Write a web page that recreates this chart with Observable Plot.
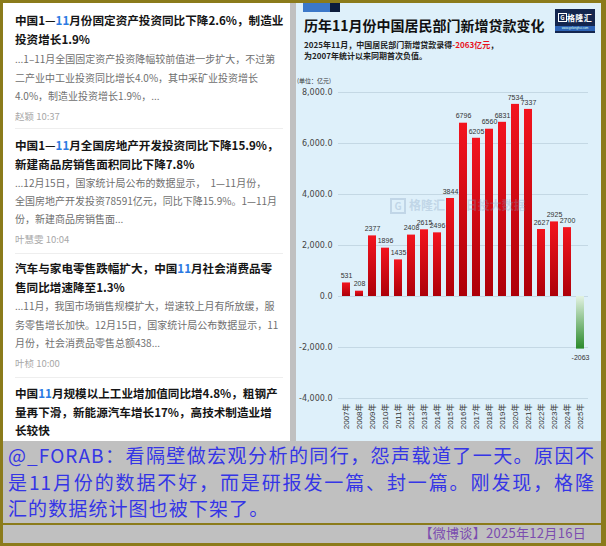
<!DOCTYPE html>
<html><head><meta charset="utf-8">
<script src="https://cdn.jsdelivr.net/npm/d3@7"></script>
<script src="https://cdn.jsdelivr.net/npm/@observablehq/plot@0.6"></script>
<style>
html,body{margin:0;padding:0;background:#8b7b1b;}
#root{position:relative;width:606px;height:546px;background:#8b7b1b;overflow:hidden;font-family:"Noto Sans CJK SC","Noto Sans",sans-serif;}
</style></head><body><div id="root"></div>
<script>
// ---- chart data ----
const years = ["2007年","2008年","2009年","2010年","2011年","2012年","2013年","2014年","2015年","2016年","2017年","2018年","2019年","2020年","2021年","2022年","2023年","2024年","2025年"];
const loans = [531,208,2377,1896,1435,2408,2615,2496,3844,6796,6205,6560,6831,7534,7337,2627,2925,2700,-2063];
const yTicks = [-4000,-2000,0,2000,4000,6000,8000];
const chartTitle = "历年11月份中国居民部门新增贷款变化";
const subtitle1a = "2025年11月，中国居民部门新增贷款录得";
const subtitle1b = "-2063亿元";
const subtitle1c = "，";
const subtitle2 = "为2007年统计以来同期首次负值。";
const unitLabel = "(单位：亿元)";

// ---- page text ----
const newsTitles = [
  ["中国1—[11]月份固定资产投资同比下降2.6%，制造业","投资增长1.9%"],
  ["中国1—[11]月全国房地产开发投资同比下降15.9%，","新建商品房销售面积同比下降7.8%"],
  ["汽车与家电零售跌幅扩大，中国[11]月社会消费品零","售同比增速降至1.3%"],
  ["中国[11]月规模以上工业增加值同比增4.8%，粗钢产","量再下滑，新能源汽车增长17%，高技术制造业增","长较快"]
];
const newsSnips = [
  ["...1–11月全国固定资产投资降幅较前值进一步扩大，不过第","二产业中工业投资同比增长4.0%，其中采矿业投资增长","4.0%，制造业投资增长1.9%，..."],
  ["...12月15日，国家统计局公布的数据显示，　1—11月份，","全国房地产开发投资78591亿元，同比下降15.9%。1—11月","份，新建商品房销售面..."],
  ["...11月，我国市场销售规模扩大，增速较上月有所放缓，服","务零售增长加快。12月15日，国家统计局公布数据显示，11","月份，社会消费品零售总额438..."],
  []
];
const newsMeta = ["赵颖  10:37","叶慧雯  10:04","叶桢  10:00",null];
const comment = ["@_FORAB：看隔壁做宏观分析的同行，怨声载道了一天。原因不","是11月份的数据不好，而是研报发一篇、封一篇。刚发现，格隆","汇的数据统计图也被下架了。"];
const footer = "【微博谈】2025年12月16日";

// ---- layout helpers ----
const root = document.getElementById("root");
function box(x,y,w,h,bg){const d=document.createElement("div");Object.assign(d.style,{position:"absolute",left:x+"px",top:y+"px",width:w+"px",height:h+"px",background:bg});root.appendChild(d);return d;}
function txt(html,x,cy,o={}){
  const lh=o.lh||18;const d=document.createElement("div");d.innerHTML=html;
  Object.assign(d.style,{position:"absolute",left:x+"px",top:(cy-lh/2)+"px",lineHeight:lh+"px",fontSize:o.size+"px",color:o.color||"#000",fontWeight:o.weight||400,whiteSpace:o.width?"normal":"nowrap",fontFamily:o.font||'"Noto Sans CJK SC",sans-serif'});
  if(o.width)d.style.width=o.width+"px";
  if(o.justify){d.style.textAlign="justify";d.style.textAlignLast="justify";}
  if(o.ls)d.style.letterSpacing=o.ls+"px";
  if(o.right!=null){d.style.left="auto";d.style.right=o.right+"px";}
  if(o.opacity!=null)d.style.opacity=o.opacity;
  root.appendChild(d);return d;
}
const blue11 = s => s.replace("[11]",'<span style="color:#2a7ae2">11</span>');

// backgrounds
box(3,3,598,540,"#c0c0c0");
box(3,3,287,438,"#ffffff");
box(296,3,305,438,"#def0fa");
box(3,523,598,2,"#8b7b1b");

// left news list
const titleYs=[[20,39],[145,163.5],[268,286.5],[393,412,430]];
const snipYs=[[59,77.5,96],[183,201,219],[306,325,343],[]];
const metaYs=[116,239,363,null];
const divYs=[128,253,377];
newsTitles.forEach((lines,i)=>{
  lines.forEach((l,j)=>txt(blue11(l),15,titleYs[i][j],{size:11.6,weight:700,color:"#151515"}));
  newsSnips[i].forEach((l,j)=>txt(l,15,snipYs[i][j],{size:10,color:"#6f6f6f"}));
  if(newsMeta[i])txt(newsMeta[i],15,metaYs[i],{size:9.5,color:"#a8a8a8"});
});
divYs.forEach(y=>box(15,y,268,1,"#eeeeee"));

// bottom comment
comment.forEach((l,i)=>txt(l,8,[455,482,508][i],{size:19,color:"#3535e6",ls:1.1,width:i<2?587:null,justify:i<2,lh:26}));
txt(footer,0,533,{size:13,color:"#7b4caf",right:20,lh:16,ls:0.3});

// chart header
box(303,3,27,9,"#3b78c9");
box(330,3,10,9,"#0c1c3c");
txt(chartTitle,304,25,{size:14,weight:700,color:"#111"});
txt(subtitle1a+'<span style="color:#e8101c">'+subtitle1b+'</span>'+subtitle1c,304,44.5,{size:8,weight:700,color:"#222",lh:9});
txt(subtitle2,304,55,{size:8,weight:700,color:"#222",lh:9});
const logo=box(555,9,40,24,"#14264f");
logo.innerHTML='<div style="color:#fff;font:700 8px \'Noto Sans CJK SC\';line-height:17px;text-align:center;letter-spacing:0.3px"><span style="display:inline-block;border:1px solid #fff;width:7px;height:7px;line-height:7px;font-size:6px;vertical-align:1px">G</span>格隆汇</div><div style="background:#2d63b6;height:5px;color:#dfe;font:3px sans-serif;line-height:5px;text-align:center">www.gelonghui.com</div>';

// chart
const data = years.map((y,i)=>({year:y,value:loans[i]}));
const pos = data.filter(d=>d.value>=0), neg = data.filter(d=>d.value<0);
const fmt = d => d3.format(",.1f")(d).replace("\u2212","-");
const defs = () => {
  const g = d3.create("svg:defs");
  const r = g.append("linearGradient").attr("id","gradRed").attr("x1",0).attr("y1",0).attr("x2",0).attr("y2",1);
  r.append("stop").attr("offset","0%").attr("stop-color","#f2141e");
  r.append("stop").attr("offset","100%").attr("stop-color","#ad0009");
  const gr = g.append("linearGradient").attr("id","gradGreen").attr("x1",0).attr("y1",0).attr("x2",0).attr("y2",1);
  gr.append("stop").attr("offset","0%").attr("stop-color","#e2f2e2");
  gr.append("stop").attr("offset","100%").attr("stop-color","#2a8a2a");
  return g.node();
};
const chart = Plot.plot({
  width:305, height:365,
  marginLeft:42, marginRight:13, marginTop:22, marginBottom:37,
  style:{background:"transparent",color:"#333",fontFamily:'"DejaVu Sans",sans-serif',fontSize:"8px",overflow:"visible"},
  x:{type:"band",domain:years,paddingInner:0.4,paddingOuter:0.155},
  y:{domain:[-4000,8000]},
  marks:[
    defs,
    Plot.ruleY(yTicks,{stroke:"#c4d8e4",strokeWidth:1}),
    Plot.barY(pos,{x:"year",y:"value",fill:"url(#gradRed)"}),
    Plot.barY(neg,{x:"year",y:"value",fill:"url(#gradGreen)"}),
    Plot.text(pos,{x:"year",y:"value",text:d=>String(d.value),dy:-7,fontSize:7,fontFamily:'"Liberation Sans",sans-serif',fill:"#333"}),
    Plot.text(neg,{x:"year",y:"value",text:d=>String(d.value),dy:9,fontSize:7,fontFamily:'"Liberation Sans",sans-serif',fill:"#333"}),
    Plot.axisY(yTicks,{tickFormat:fmt,tickSize:0,tickPadding:6,label:null,fontSize:8,fill:"#444"}),
    Plot.axisX({tickRotate:-90,tickSize:0,tickPadding:5,label:null,fontSize:8,fontFamily:'"Liberation Sans","Noto Sans CJK SC",sans-serif',fill:"#333"})
  ]
});
const wrap=document.createElement("div");
Object.assign(wrap.style,{position:"absolute",left:"296px",top:"70px"});
wrap.appendChild(chart);root.appendChild(wrap);

txt(unitLabel,297,81,{size:6,color:"#333",lh:8});
// watermark
txt('<span style="display:inline-block;border:2px solid #7f9bbd;width:12px;height:12px;line-height:12px;font-size:10px;text-align:center;margin-right:3px">G</span>格隆汇 <span style="margin-left:18px">日投大数据</span>',390,205,{size:12,weight:700,color:"#7f9bbd",opacity:0.3,lh:16});
</script></body></html>
